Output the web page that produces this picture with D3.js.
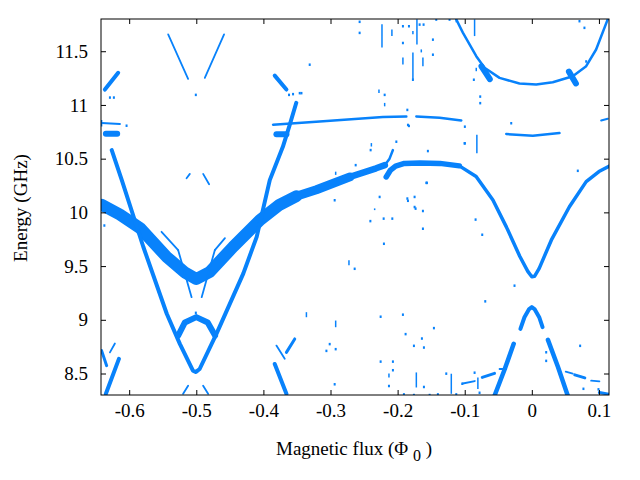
<!DOCTYPE html>
<html>
<head>
<meta charset="utf-8">
<script src="https://cdn.jsdelivr.net/npm/d3@7"></script>
<style>
  body { margin: 0; background: #fff; }
  text { font-family: "Liberation Serif", "Times New Roman", serif; }
</style>
</head>
<body>
<svg id="grafico"></svg>
<script>
// marcas dos eixos
let xTicks = [-0.6, -0.5, -0.4, -0.3, -0.2, -0.1, 0, 0.1];
let yTicks = [8.5, 9, 9.5, 10, 10.5, 11, 11.5];

// linhas do espectro, cada ponto = [fluxo (Phi0), energia (GHz)]
let bandaV = [[-0.641,10.07],[-0.614,9.98],[-0.584,9.855],[-0.544,9.585],[-0.517,9.44],[-0.500,9.38],
  [-0.480,9.445],[-0.445,9.68],[-0.405,9.93],[-0.376,10.07],[-0.351,10.15]];
let bandaSubida = [[-0.351,10.15],[-0.321,10.21],[-0.271,10.33]];
let bandaSubida2 = [[-0.271,10.33],[-0.232,10.41],[-0.219,10.44]];
let caudaSubida = [[-0.219,10.44],[-0.212,10.50],[-0.207,10.58]];
let bandaTopo = [[-0.217,10.33],[-0.211,10.39],[-0.203,10.43],[-0.190,10.455],[-0.167,10.46],
  [-0.137,10.456],[-0.108,10.433]];
let bandaZero = [[-0.108,10.433],[-0.083,10.333],[-0.058,10.115],[-0.038,9.865],[-0.018,9.592],
  [-0.006,9.451],[0.0,9.40],[0.004,9.405],[0.011,9.479],[0.029,9.741],[0.056,10.052],
  [0.081,10.286],[0.100,10.38],[0.115,10.43]];
let linhaV = [[-0.626,10.58],[-0.611,10.30],[-0.579,9.68],[-0.544,9.056],[-0.5245,8.776],[-0.505,8.526],
  [-0.501,8.515],[-0.4995,8.52],[-0.495,8.542],[-0.470,8.869],[-0.430,9.43],[-0.410,9.772],
  [-0.3905,10.30],[-0.371,10.61],[-0.361,10.81],[-0.351,11.02]];
let arcoMeio = [[-0.527,8.853],[-0.517,8.975],[-0.500,9.025],[-0.483,8.975],[-0.472,8.853]];
let arcoZero = [[-0.017,8.916],[-0.011,9.024],[-0.004,9.10],[0.0,9.118],[0.004,9.10],[0.011,9.024],[0.016,8.931]];
let ramoZeroEsq = [[-0.027,8.776],[-0.041,8.53],[-0.0556,8.293]];
let ramoZeroDir = [[0.024,8.813],[0.039,8.56],[0.0536,8.293]];
let arcoAlto = [[-0.1126,11.797],[-0.1028,11.673],[-0.0828,11.454],[-0.0705,11.346],[-0.0481,11.252],
  [-0.0184,11.199],[0.0065,11.190],[0.0312,11.211],[0.061,11.267],[0.081,11.361],[0.0958,11.516],
  [0.1131,11.797]];
let nivel1085 = [[-0.3856,10.816],[-0.3161,10.847],[-0.2219,10.888],[-0.187,10.893]];
let nivel1085b = [[-0.1721,10.893],[-0.1374,10.881],[-0.1051,10.856]];
let nivel1072 = [[-0.0381,10.729],[0.0015,10.713],[0.0412,10.738]];
let nivelBorda = [[0.1033,10.856],[0.1131,10.872]];
let nivelEsq = [[-0.641,10.832],[-0.6138,10.822]];

// segmentos curtos: [x1, E1, x2, E2]
let segFinos = [
  [-0.5518,9.819,-0.527,9.648], [-0.527,9.648,-0.507,9.211],
  [-0.4573,9.76,-0.4724,9.648], [-0.4724,9.648,-0.492,9.211],
  [-0.5419,11.657,-0.5122,11.243], [-0.4586,11.657,-0.4873,11.252],
  [-0.5145,10.318,-0.5096,10.358], [-0.4898,10.358,-0.4809,10.262],
  [-0.5196,8.311,-0.5122,8.386], [-0.4898,8.386,-0.4824,8.311],
  [-0.6287,8.697,-0.6213,8.779], [-0.3806,8.760,-0.3682,8.638],
  [-0.1028,8.407,-0.0850,8.430], [-0.0481,8.542,-0.0381,8.542], [0.0884,8.433,0.1007,8.427],
  [0.0505,8.517,0.0610,8.500], [0.1007,8.245,0.1131,8.232]
];
let segMedios = [
  [-0.6411,8.713,-0.6336,8.573], [-0.3657,8.697,-0.3533,8.822],
  [-0.0739,8.464,-0.0556,8.501], [0.0640,8.487,0.0790,8.459], [0.1007,8.323,0.1146,8.308]
];
let segGrossos = [
  [-0.6362,11.143,-0.6164,11.299], [-0.3831,11.273,-0.3657,11.143],
  [-0.6347,8.311,-0.6153,8.636], [-0.3831,8.589,-0.3657,8.311]
];
let manchas = [
  [-0.6347,10.732,-0.6179,10.732], [-0.3806,10.727,-0.3657,10.727],
  [-0.075,11.36,-0.0626,11.24], [0.0553,11.31,0.0657,11.20]
];

// riscos verticais: [x, E1, E2]
let riscos = [
  [-0.2233,11.750,11.535],[-0.2085,11.703,11.641],[-0.1921,11.442,11.377],[-0.1772,11.688,11.657],
  [-0.1772,11.489,11.237],[-0.1712,11.797,11.563],[-0.1647,11.517,11.489],[-0.1623,11.442,11.361],
  [-0.1126,11.797,11.769],[-0.0853,11.797,11.641],[-0.0828,11.346,11.314],[-0.2278,11.143,11.112],
  [-0.2193,11.019,10.987],[-0.0819,10.722,10.551],[-0.2391,10.645,10.613],[-0.2923,10.379,10.349],
  [-0.2342,10.037,10.021],[-0.1721,8.510,8.370],[-0.2129,8.501,8.464],[-0.1200,8.498,8.311],
  [-0.0804,8.464,8.355],[-0.2725,9.554,9.508],[-0.2923,8.993,8.931],[-0.3359,9.071,9.024],
  [-0.6411,10.86,10.80]
];

// pontos soltos: [x, E]
let pontos = [
  [-0.2566,11.776],[-0.2566,11.673],[-0.1921,11.735],[-0.1921,11.579],[-0.1831,11.735],[-0.1672,11.750],
  [-0.1613,11.750],[-0.1474,11.610],[-0.1474,11.470],[-0.1424,11.797],[-0.1226,11.797],[-0.0864,11.237],
  [-0.0769,11.080],[-0.0769,11.019],[-0.2193,11.096],[-0.1831,10.807],[-0.0998,10.800],[-0.0998,10.645],
  [-0.0307,10.832],[0.0710,11.782],[0.0784,11.720],[0.0810,11.407],[-0.2938,10.115],[-0.2268,10.146],
  [-0.2406,9.921],[-0.2208,9.944],[-0.2079,9.944],[-0.1846,10.110],[-0.1732,10.037],[-0.1623,10.015],
  [-0.1623,9.850],[-0.1563,10.277],[-0.0838,9.935],[-0.0739,9.794],[0.0685,10.389],[-0.2204,9.710],
  [-0.2640,9.477],[-0.2253,9.031],[-0.3061,8.713],[-0.3012,8.776],[-0.2923,8.729],[-0.1921,9.050],
  [-0.1881,8.869],[-0.1757,8.760],[-0.1638,8.828],[-0.1608,8.744],[-0.1459,8.925],[-0.2253,8.613],
  [-0.2070,8.613],[-0.2070,8.533],[-0.2129,8.386],[-0.1906,8.308],[-0.1757,8.302],[-0.1608,8.377],
  [-0.1523,8.302],[-0.2938,8.402],[-0.1275,8.501],[-0.1126,8.308],[-0.1037,8.407],[-0.0853,8.510],
  [-0.0779,8.323],[-0.0694,9.174],[-0.1400,8.308],[0.0720,8.760],[0.0214,8.620],[0.0993,8.355],
  [-0.3459,11.112],[-0.3618,11.096],[-0.1855,10.956],[-0.1772,11.237],[-0.2402,10.582],[-0.2019,10.660],
  [-0.1549,10.573],[-0.1002,10.645],[-0.1846,10.816],[-0.1572,10.277],[-0.1855,10.131],[-0.1747,10.146],
  [-0.1747,10.052],[-0.2625,10.442],[-0.2889,10.302],[-0.5007,9.067],[-0.6287,11.071],[-0.6228,11.071],
  [-0.6039,10.809],[-0.3558,11.103],[-0.3433,11.112],[-0.3310,11.377],[-0.5007,11.096],
  [-0.0258,9.320],[0.0214,8.700],[0.0769,8.360],[-0.6370,9.880]
];

function desenhaGrafico(){
    let width = 640, height = 480;
    let margem = {esq: 101, dir: 31, topo: 19, base: 85};
    let cor = "#0882fb";

    let svg = d3.select("#grafico")
        .attr("width", width)
        .attr("height", height)
        .attr("viewBox", "0 0 " + width + " " + height);

    let x = d3.scaleLinear().domain([-0.642, 0.115]).range([margem.esq, width - margem.dir]);
    let y = d3.scaleLinear().domain([8.3, 11.8]).range([height - margem.base, margem.topo]);

    // recorta tudo na área do gráfico
    svg.append("clipPath").attr("id", "area")
        .append("rect")
        .attr("x", margem.esq).attr("y", margem.topo)
        .attr("width", width - margem.esq - margem.dir)
        .attr("height", height - margem.topo - margem.base);

    let grupo = svg.append("g").attr("clip-path", "url(#area)");
    let linha = d3.line().x(d => x(d[0])).y(d => y(d[1]));

    // curvas e a espessura de cada uma
    let curvas = [
        [bandaV, 12], [bandaSubida, 9], [bandaSubida2, 6.5], [caudaSubida, 2.5], [bandaTopo, 5.5],
        [bandaZero, 3.5], [linhaV, 4], [arcoMeio, 6], [arcoZero, 4], [ramoZeroEsq, 4.5],
        [ramoZeroDir, 4.5], [arcoAlto, 2.5], [nivel1085, 2.5], [nivel1085b, 2.5], [nivel1072, 2.5],
        [nivelBorda, 2], [nivelEsq, 2]
    ];
    curvas.forEach(function(c){
        grupo.append("path")
            .attr("d", linha(c[0]))
            .attr("fill", "none")
            .attr("stroke", cor)
            .attr("stroke-width", c[1])
            .attr("stroke-linejoin", "round")
            .attr("stroke-linecap", "round");
    });

    let segmentos = [[segFinos, 1.8], [segMedios, 3], [segGrossos, 4], [manchas, 6]];
    segmentos.forEach(function(s){
        grupo.selectAll(null)
            .data(s[0])
            .enter().append("line")
            .attr("x1", d => x(d[0])).attr("y1", d => y(d[1]))
            .attr("x2", d => x(d[2])).attr("y2", d => y(d[3]))
            .attr("stroke", cor)
            .attr("stroke-width", s[1])
            .attr("stroke-linecap", "round");
    });

    grupo.selectAll(null)
        .data(riscos)
        .enter().append("line")
        .attr("x1", d => x(d[0])).attr("y1", d => y(d[1]))
        .attr("x2", d => x(d[0])).attr("y2", d => y(d[2]))
        .attr("stroke", cor)
        .attr("stroke-width", 1.5);

    grupo.selectAll(null)
        .data(pontos)
        .enter().append("rect")
        .attr("x", d => x(d[0]) - 1).attr("y", d => y(d[1]) - 1)
        .attr("width", 2).attr("height", 2.5)
        .attr("fill", cor);

    // eixos com marcas para dentro
    let fmt = d => String(d);
    let eixoX = d3.axisBottom(x).tickValues(xTicks).tickFormat(fmt).tickSizeInner(-5).tickSizeOuter(0).tickPadding(9);
    let eixoY = d3.axisLeft(y).tickValues(yTicks).tickFormat(fmt).tickSizeInner(-5).tickSizeOuter(0).tickPadding(13);
    let eixoTopo = d3.axisTop(x).tickValues(xTicks).tickFormat("").tickSizeInner(-5).tickSizeOuter(0);
    let eixoDir = d3.axisRight(y).tickValues(yTicks).tickFormat("").tickSizeInner(-5).tickSizeOuter(0);

    svg.append("g").attr("transform", "translate(0," + (height - margem.base) + ")").call(eixoX);
    svg.append("g").attr("transform", "translate(" + margem.esq + ",0)").call(eixoY);
    svg.append("g").attr("transform", "translate(0," + margem.topo + ")").call(eixoTopo);
    svg.append("g").attr("transform", "translate(" + (width - margem.dir) + ",0)").call(eixoDir);

    svg.selectAll(".tick text").attr("font-size", 19).attr("fill", "#000")
        .style("font-family", '"Liberation Serif", serif');
    svg.selectAll(".tick line").attr("stroke", "#000");
    svg.selectAll(".domain").remove();

    svg.append("rect")
        .attr("x", margem.esq).attr("y", margem.topo)
        .attr("width", width - margem.esq - margem.dir)
        .attr("height", height - margem.topo - margem.base)
        .attr("fill", "none").attr("stroke", "#000").attr("stroke-width", 1);

    // títulos dos eixos
    svg.append("text")
        .attr("transform", "translate(27," + 208 + ") rotate(-90)")
        .attr("text-anchor", "middle")
        .attr("font-size", 19)
        .text("Energy (GHz)");

    let rotuloX = svg.append("text")
        .attr("x", 354).attr("y", 455)
        .attr("text-anchor", "middle")
        .attr("font-size", 19);
    rotuloX.append("tspan").text("Magnetic flux (\u03A6 ");
    rotuloX.append("tspan").attr("dy", 6).attr("font-size", 16).text("0");
    rotuloX.append("tspan").attr("dy", -6).text(" )");
}

desenhaGrafico();
</script>
</body>
</html>
